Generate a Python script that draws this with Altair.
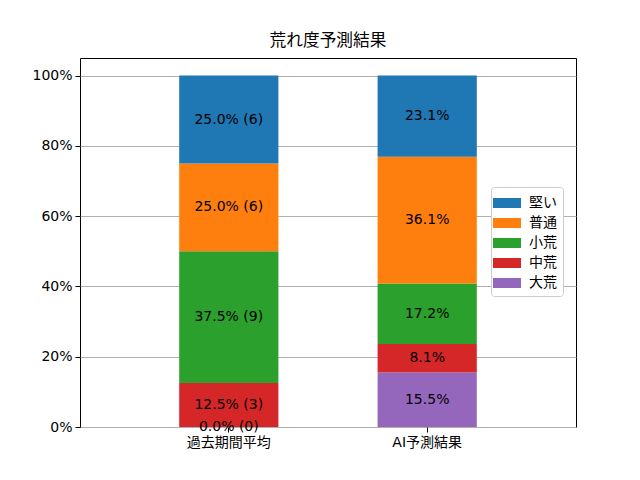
import altair as alt
import pandas as pd

categories = ["過去期間平均", "AI予測結果"]
levels = ["堅い", "普通", "小荒", "中荒", "大荒"]
colors = ["#1f77b4", "#ff7f0e", "#2ca02c", "#d62728", "#9467bd"]
past_pct = [25.0, 25.0, 37.5, 12.5, 0.0]
past_cnt = [6, 6, 9, 3, 0]
ai_pct = [23.1, 36.1, 17.2, 8.1, 15.5]

rows = []
for i, lv in enumerate(levels):
    rows.append({"cat": categories[0], "level": lv, "value": past_pct[i],
                 "order": len(levels) - i,
                 "label": f"{past_pct[i]:.1f}% ({past_cnt[i]})"})
for i, lv in enumerate(levels):
    rows.append({"cat": categories[1], "level": lv, "value": ai_pct[i],
                 "order": len(levels) - i,
                 "label": f"{ai_pct[i]:.1f}%"})
df = pd.DataFrame(rows)

FONT = "DejaVu Sans, Noto Sans CJK JP"
FS = 14

base = alt.Chart(df).transform_stack(
    stack="value", as_=["y0", "y1"], groupby=["cat"],
    sort=[alt.SortField("order", order="ascending")]
).transform_calculate(mid="(datum.y0 + datum.y1) / 2")

xenc = alt.X("cat:N", sort=categories, title=None,
             scale=alt.Scale(paddingInner=0.5, paddingOuter=0.5),
             axis=alt.Axis(labelAngle=0, labelFontSize=FS, labelColor="black",
                           tickColor="black", tickSize=5, domain=False,
                           labelFont=FONT, labelPadding=3))
yscale = alt.Scale(domain=[0, 105], nice=False)

bars = base.mark_bar().encode(
    x=xenc,
    y=alt.Y("y0:Q", scale=yscale, title=None,
            axis=alt.Axis(values=[0, 20, 40, 60, 80, 100],
                          labelExpr="datum.value + '%'",
                          grid=True, gridColor="#b0b0b0", gridWidth=1,
                          labelFontSize=FS, labelColor="black",
                          tickColor="black", tickSize=5, domain=False,
                          labelFont=FONT, labelPadding=3)),
    y2="y1:Q",
    color=alt.Color("level:N", sort=levels,
                    scale=alt.Scale(domain=levels, range=colors),
                    legend=alt.Legend(title=None, orient="none",
                                      legendX=411, legendY=129,
                                      symbolType="M-1.4,-0.5L1.4,-0.5L1.4,0.5L-1.4,0.5Z",
                                      symbolSize=400, symbolStrokeWidth=0,
                                      symbolOpacity=1,
                                      labelFontSize=FS, labelFont=FONT,
                                      labelColor="black", rowPadding=3,
                                      labelOffset=12,
                                      padding=6, strokeColor="#cccccc",
                                      fillColor="white", cornerRadius=3)),
    order=alt.Order("order:Q"),
)

texts = base.mark_text(fontSize=FS, font=FONT, color="black").encode(
    x=alt.X("cat:N", sort=categories),
    y=alt.Y("mid:Q", scale=yscale),
    text="label:N",
)

chart = alt.layer(bars, texts).properties(
    width=496, height=369,
    title=alt.TitleParams("荒れ度予測結果", fontSize=16.7, fontWeight="normal",
                          font=FONT, color="black", offset=8),
    autosize=alt.AutoSizeParams(type="none"),
    padding={"left": 72, "top": 50, "right": 56, "bottom": 45},
).configure_view(stroke="black", strokeWidth=1)

chart.save("out.html", embed_options={"renderer": "svg", "actions": False})
